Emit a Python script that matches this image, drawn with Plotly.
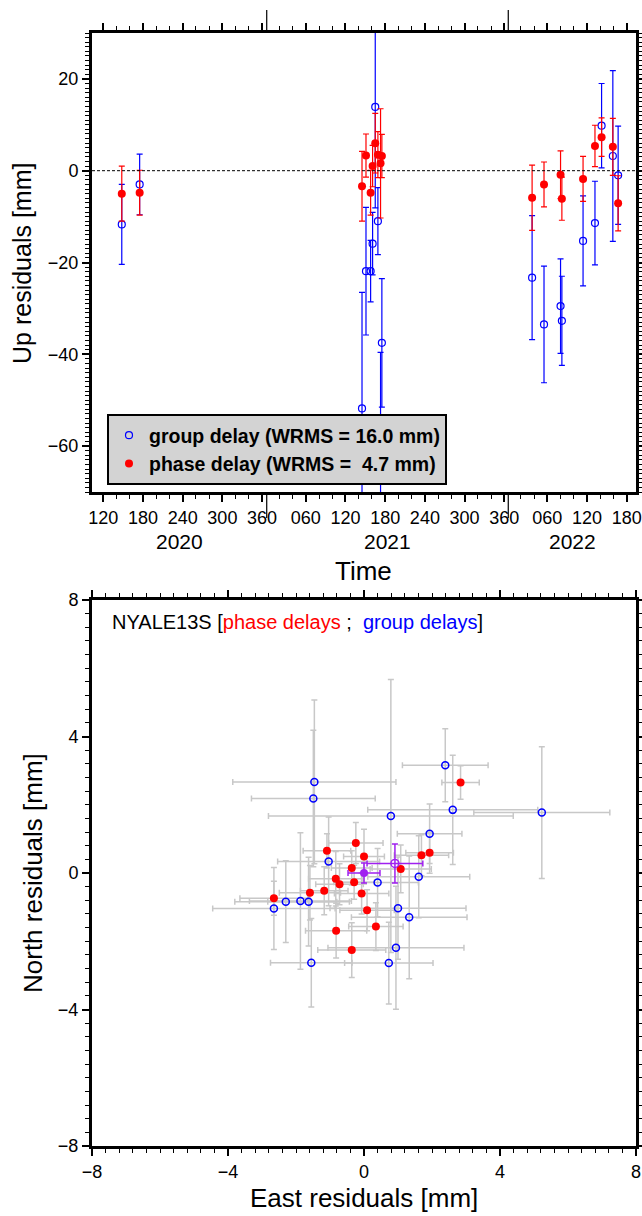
import plotly.graph_objects as go
import pandas as pd

# ---------------- Top panel: Up residuals per session ----------------
session_year = [2020, 2020,
                2021, 2021, 2021, 2021, 2021, 2021, 2021, 2021,
                2022, 2022, 2022, 2022, 2022, 2022, 2022, 2022, 2022]
session_doy = [148, 175,
               145, 151, 158, 161, 165, 169, 173, 175,
               37, 55, 80, 82, 114, 132, 142, 159, 167]
group_up = [-11.7, -3.0,
            -51.8, -21.9, -21.9, -15.9, 13.9, -11.0, -82.0, -37.5,
            -23.3, -33.5, -29.5, -32.7, -15.3, -11.4, 9.8, 3.2, -1.0]
group_up_err = [8.7, 6.6,
                25.3, 13.9, 6.7, 6.8, 22.0, 7.3, 42.4, 14.0,
                13.5, 12.7, 10.3, 9.7, 9.8, 9.1, 9.2, 18.6, 10.7]
phase_up = [-5.0, -4.8,
            -3.4, 3.3, -4.8, 1.0, 6.0, 3.5, 1.6, 3.2,
            -5.9, -3.0, -0.9, -6.1, -1.8, 5.4, 7.3, 5.2, -7.1]
phase_up_err = [6.0, 4.9,
                7.6, 4.7, 4.9, 4.5, 6.5, 5.0, 11.9, 4.7,
                7.1, 4.9, 5.2, 4.7, 4.9, 4.5, 4.2, 6.2, 6.0]

legend_group = "group delay (WRMS = 16.0 mm)"
legend_phase = "phase delay (WRMS =\u00a0 4.7 mm)"

time_start = (2020, 103)
time_end = (2022, 194)
tick_doys = [60, 120, 180, 240, 300, 360]
minor_doys = list(range(20, 366, 20))
years = [2020, 2021, 2022]

# ---------------- Bottom panel: horizontal residuals ----------------
phase_east = [-1.09, -0.24, 0.00, -0.36, 2.84, 1.69, 1.93, 1.08, -0.83, -0.72,
              -0.29, -1.59, -1.17, -0.07, -2.65, 0.09, -0.82, 0.35, -0.36]
phase_north = [0.65, 0.88, 0.48, 0.15, 2.65, 0.52, 0.59, 0.12, -0.17, -0.33,
               -0.27, -0.58, -0.52, -0.60, -0.74, -1.09, -1.69, -1.57, -2.26]
phase_east_err = [0.7, 0.8, 0.6, 0.6, 0.55, 0.8, 0.7, 0.9, 0.8, 0.7,
                  0.6, 0.9, 0.7, 0.8, 1.0, 0.8, 0.9, 0.8, 1.0]
phase_north_err = [0.5, 0.6, 0.8, 0.5, 0.49, 0.6, 0.6, 0.7, 0.8, 0.6,
                   0.5, 0.8, 0.7, 0.6, 0.5, 0.6, 0.8, 0.7, 0.8]

group_east = [-1.46, -1.49, -1.04, 2.39, 0.79, 2.61, 5.23, 1.93, 1.61, 0.40,
              -2.30, -1.87, -1.63, -2.65, 1.00, 1.33, 0.94, -1.55, 0.73]
group_north = [2.67, 2.18, 0.34, 3.16, 1.67, 1.85, 1.77, 1.15, -0.11, -0.28,
               -0.84, -0.82, -0.84, -1.04, -1.03, -1.30, -2.19, -2.63, -2.64]
group_east_err = [2.4, 1.82, 1.5, 1.26, 3.6, 2.5, 2.0, 0.95, 1.5, 1.2,
                  1.5, 1.5, 1.2, 1.8, 2.0, 1.7, 2.0, 1.2, 1.3]
group_north_err = [2.4, 2.0, 1.3, 1.07, 4.0, 1.6, 1.93, 0.87, 1.2, 1.0,
                   1.2, 2.0, 1.3, 1.2, 1.5, 1.8, 1.8, 1.3, 1.2]

mean_phase = dict(e=0.0, n=0.0, ee=0.47, ne=0.29)
mean_group = dict(e=0.91, n=0.28, ee=0.82, ne=0.57)

station = "NYALE13S"

# ---------------- helpers ----------------
W, H = 642, 1216
FONT = "Liberation Sans, Arial, Helvetica, sans-serif"
TICK_SIZE = 18
TITLE_SIZE = 26


def doy_date(y, d):
    return pd.Timestamp(year=y, month=1, day=1) + pd.Timedelta(days=d - 1)


x_dates = [doy_date(y, d) for y, d in zip(session_year, session_doy)]
t0 = doy_date(*time_start)
t1 = doy_date(*time_end)

major_vals, major_text = [], []
minor_vals = []
for y in years:
    for d in tick_doys:
        t = doy_date(y, d)
        if t0 <= t <= t1:
            major_vals.append(t)
            major_text.append(f"{d:03d}")
    for d in minor_doys:
        t = doy_date(y, d)
        if t0 <= t <= t1:
            minor_vals.append(t)

xdom = [92 / W, 636 / W]
ydom_top = [1 - 492 / H, 1 - 33 / H]
ydom_bot = [1 - 1146 / H, 1 - 600 / H]

fig = go.Figure()

# top panel traces
fig.add_trace(go.Scatter(
    x=x_dates, y=group_up, mode="markers", name=legend_group,
    marker=dict(symbol="circle-open", size=7, color="#0000ff", line=dict(width=1.2)),
    error_y=dict(type="data", array=group_up_err, color="#0000ff", thickness=1.2, width=3),
    xaxis="x", yaxis="y", showlegend=True))
fig.add_trace(go.Scatter(
    x=x_dates, y=phase_up, mode="markers", name=legend_phase,
    marker=dict(symbol="circle", size=8, color="#ff0000"),
    error_y=dict(type="data", array=phase_up_err, color="#ff0000", thickness=1.2, width=3),
    xaxis="x", yaxis="y", showlegend=True))

# bottom panel: gray error bars first
GRAY = "#c8c8c8"
for ex, ey, exe, eye in [(group_east, group_north, group_east_err, group_north_err),
                         (phase_east, phase_north, phase_east_err, phase_north_err)]:
    fig.add_trace(go.Scatter(
        x=ex, y=ey, mode="markers", marker=dict(size=2, color="rgba(0,0,0,0)"),
        error_x=dict(type="data", array=exe, color=GRAY, thickness=1.5, width=3),
        error_y=dict(type="data", array=eye, color=GRAY, thickness=1.5, width=3),
        xaxis="x2", yaxis="y2", showlegend=False, hoverinfo="skip"))

fig.add_trace(go.Scatter(
    x=group_east, y=group_north, mode="markers",
    marker=dict(symbol="circle-open", size=7, color="#0000ff", line=dict(width=1.5)),
    xaxis="x2", yaxis="y2", showlegend=False))
fig.add_trace(go.Scatter(
    x=phase_east, y=phase_north, mode="markers",
    marker=dict(symbol="circle", size=8, color="#ff0000"),
    xaxis="x2", yaxis="y2", showlegend=False))

PURPLE = "#a020f0"
fig.add_trace(go.Scatter(
    x=[mean_group["e"]], y=[mean_group["n"]], mode="markers",
    marker=dict(symbol="circle-open", size=8, color=PURPLE, line=dict(width=1.5)),
    error_x=dict(type="data", array=[mean_group["ee"]], color=PURPLE, thickness=1.5, width=3),
    error_y=dict(type="data", array=[mean_group["ne"]], color=PURPLE, thickness=1.5, width=3),
    xaxis="x2", yaxis="y2", showlegend=False))
fig.add_trace(go.Scatter(
    x=[mean_phase["e"]], y=[mean_phase["n"]], mode="markers",
    marker=dict(symbol="circle", size=8, color=PURPLE),
    error_x=dict(type="data", array=[mean_phase["ee"]], color=PURPLE, thickness=1.5, width=3),
    error_y=dict(type="data", array=[mean_phase["ne"]], color=PURPLE, thickness=1.5, width=3),
    xaxis="x2", yaxis="y2", showlegend=False))

axis_common = dict(showline=True, linewidth=3, linecolor="black", mirror="ticks",
                   ticks="outside", ticklen=7, tickwidth=1.5, tickcolor="black",
                   showgrid=False, zeroline=False, automargin=False,
                   tickfont=dict(family=FONT, size=TICK_SIZE, color="black"))

fig.update_layout(
    template="none",
    width=W, height=H, margin=dict(l=0, r=0, t=0, b=0, autoexpand=False),
    paper_bgcolor="white", plot_bgcolor="white",
    font=dict(family=FONT, color="black"),
    xaxis=dict(domain=xdom, anchor="y", type="date", range=[t0, t1],
               tickmode="array", tickvals=major_vals, ticktext=major_text,
               minor=dict(tickmode="array", tickvals=minor_vals, ticks="outside",
                          ticklen=4, tickwidth=1.2, tickcolor="black"),
               **axis_common),
    yaxis=dict(domain=ydom_top, anchor="x", range=[-70, 30],
               tickmode="array", tickvals=[-60, -40, -20, 0, 20],
               minor=dict(dtick=1, ticks="outside", ticklen=4, tickwidth=1.2, tickcolor="black"),
               **axis_common),
    xaxis2=dict(domain=xdom, anchor="y2", range=[-8, 8],
                tickmode="array", tickvals=[-8, -4, 0, 4, 8],
                minor=dict(dtick=0.4, ticks="outside", ticklen=4, tickwidth=1.2, tickcolor="black"),
                **axis_common),
    yaxis2=dict(domain=ydom_bot, anchor="x2", range=[-8, 8],
                tickmode="array", tickvals=[-8, -4, 0, 4, 8],
                minor=dict(dtick=0.4, ticks="outside", ticklen=4, tickwidth=1.2, tickcolor="black"),
                **axis_common),
    legend=dict(x=107 / W, y=1 - 414 / H, xanchor="left", yanchor="top",
                bgcolor="#d3d3d3", bordercolor="black", borderwidth=2,
                font=dict(family=FONT, size=19.5, color="black", weight="bold"),
                itemwidth=30, tracegroupgap=0),
)

shapes = []
# zero dashed line
shapes.append(dict(type="line", xref="x domain", yref="y", x0=0, x1=1, y0=0, y1=0,
                   line=dict(color="black", width=1, dash="3px,2px")))
# long ticks at year boundaries
for y in years[1:]:
    t = doy_date(y, 1)
    shapes.append(dict(type="line", xref="x", yref="paper", x0=t, x1=t,
                       y0=ydom_top[0] - 2 / H, y1=ydom_top[0] - 26 / H,
                       line=dict(color="black", width=1.2)))
    shapes.append(dict(type="line", xref="x", yref="paper", x0=t, x1=t,
                       y0=ydom_top[1] + 2 / H, y1=ydom_top[1] + 23 / H,
                       line=dict(color="black", width=1.2)))
fig.update_layout(shapes=shapes)

annotations = []
center = dict(xanchor="center", yanchor="middle", showarrow=False)
# year labels centered on visible span of each year
for y in years:
    a = max(doy_date(y, 1), t0)
    b = min(doy_date(y + 1, 1), t1)
    mid = a + (b - a) / 2
    annotations.append(dict(x=mid, y=1 - 541 / H, xref="x", yref="paper", text=str(y),
                            font=dict(family=FONT, size=21, color="black"), **center))
annotations.append(dict(x=(xdom[0] + xdom[1]) / 2, y=1 - 571 / H, xref="paper", yref="paper",
                        text="Time", font=dict(family=FONT, size=TITLE_SIZE, color="black"),
                        **center))
annotations.append(dict(x=22 / W, y=1 - 264 / H, xref="paper", yref="paper",
                        text="Up residuals [mm]", textangle=-90,
                        font=dict(family=FONT, size=25, color="black"), **center))
annotations.append(dict(x=33 / W, y=1 - 873 / H, xref="paper", yref="paper",
                        text="North residuals [mm]", textangle=-90,
                        font=dict(family=FONT, size=TITLE_SIZE, color="black"), **center))
annotations.append(dict(x=(xdom[0] + xdom[1]) / 2, y=1 - 1198 / H, xref="paper", yref="paper",
                        text="East residuals [mm]",
                        font=dict(family=FONT, size=TITLE_SIZE, color="black"), **center))
annotations.append(dict(x=110 / W, y=1 - 622 / H, xref="paper", yref="paper",
                        xanchor="left", yanchor="middle", showarrow=False,
                        text=(f"{station} [<span style='color:#ff0000'>phase delays</span> ;"
                              f"\u00a0 <span style='color:#0000ff'>group delays</span>]"),
                        font=dict(family=FONT, size=20, color="black")))
fig.update_layout(annotations=annotations)

fig.write_html("out.html",
               config={"displayModeBar": False},
               post_script="document.body.style.margin='0';"
                           "document.body.style.overflow='hidden';")
